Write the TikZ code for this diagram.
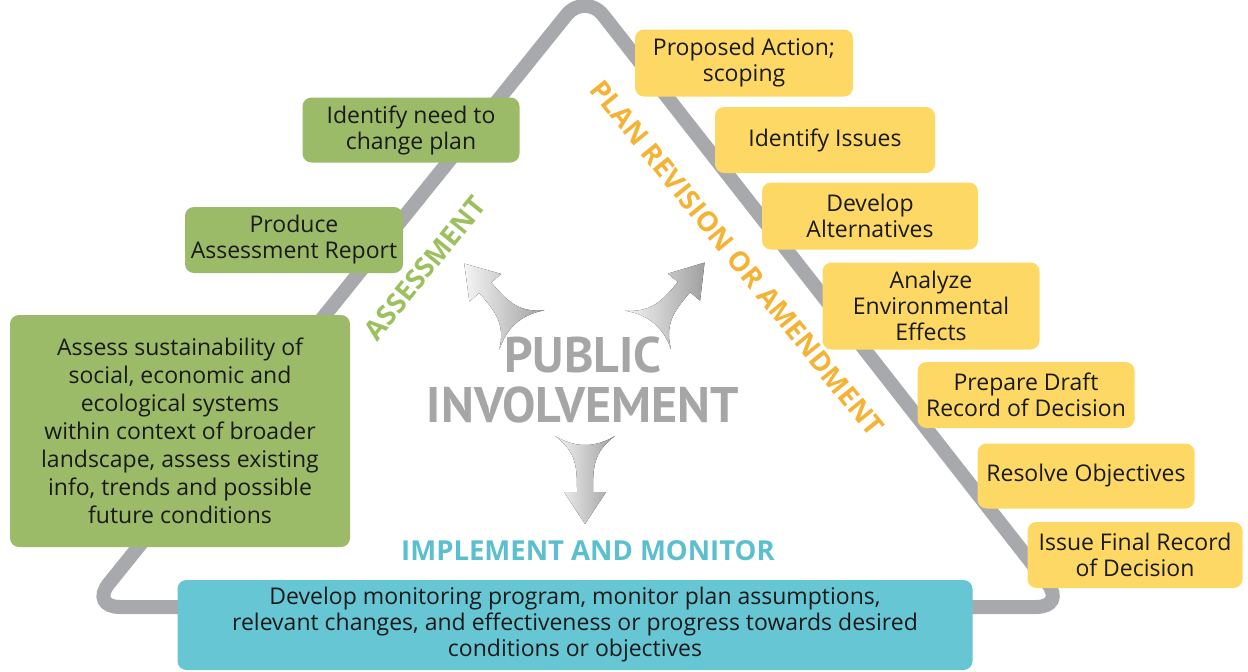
\documentclass[tikz,border=0pt]{standalone}
\usepackage{fontspec}
\setmainfont{Open Sans}
\newfontfamily\centrefont{PT Sans}
\definecolor{assessgreen}{HTML}{9CBB68}
\definecolor{revisionyellow}{HTML}{FDD865}
\definecolor{monitorteal}{HTML}{66C6D3}
\definecolor{trackgray}{HTML}{A8A9AD}
\definecolor{greentitle}{HTML}{9DC05F}
\definecolor{orangetitle}{HTML}{F5B335}
\definecolor{tealtitle}{HTML}{5CBFCD}
\definecolor{inkblack}{HTML}{1A1A1A}
\tikzstyle{stepbox}=[rectangle,rounded corners=9pt,align=center,inner sep=0pt,text=inkblack,font=\fontsize{23}{26}\selectfont]
\tikzstyle{greenbox}=[stepbox,fill=assessgreen]
\tikzstyle{yellowbox}=[stepbox,fill=revisionyellow]
\tikzstyle{tealbox}=[stepbox,fill=monitorteal]
\tikzstyle{phase}=[font=\fontsize{27.5}{27.5}\selectfont\bfseries]
\tikzstyle{track}=[draw=trackgray,line width=14pt,rounded corners=30pt]
\tikzstyle{swoosh}=[left color=gray!8,right color=gray!75]
\newcommand{\swooshto}[2]{%
  \fill[swoosh,shift={#1},rotate=#2] (0,30) .. controls (16,8) and (32,8) .. (56,8)
    -- (56,21) -- (88,0) -- (56,-21) -- (56,-8) .. controls (32,-8) and (16,-8) .. (0,-30)
    .. controls (12,-10) and (12,10) .. (0,30) -- cycle;}

\begin{document}
\begin{tikzpicture}[x=1pt,y=-1pt]
\useasboundingbox (0,0) rectangle (1248,672);
% the cycle
\draw[track] (585,-8) -- (1066,607) -- (90,607) -- cycle;

% assessment
\node[greenbox,minimum width=217pt,minimum height=65pt] at (411,130) (need) {Identify need to\\change plan};
\node[greenbox,minimum width=218pt,minimum height=66pt] at (294,240) (report) {Produce\\Assessment Report};
\node[greenbox,minimum width=340pt,minimum height=232pt,font=\fontsize{23}{28}\selectfont] at (180,431) (sustain) {Assess sustainability of\\social, economic and\\ecological systems\\within context of broader\\landscape, assess existing\\info, trends and possible\\future conditions};

% plan revision
\node[yellowbox,minimum width=218pt,minimum height=67pt] at (744,63) (scoping) {Proposed Action;\\scoping};
\node[yellowbox,minimum width=220pt,minimum height=66pt] at (825,140) (issues) {Identify Issues};
\node[yellowbox,minimum width=216pt,minimum height=67pt] at (870,216) (alternatives) {Develop\\Alternatives};
\node[yellowbox,minimum width=217pt,minimum height=87pt] at (931,306) (effects) {Analyze\\Environmental\\Effects};
\node[yellowbox,minimum width=217pt,minimum height=66pt] at (1026,395) (draft) {Prepare Draft\\Record of Decision};
\node[yellowbox,minimum width=217pt,minimum height=65pt] at (1086,476) (objectives) {Resolve Objectives};
\node[yellowbox,minimum width=215pt,minimum height=66pt] at (1135,555) (final) {Issue Final Record\\of Decision};

% implement and monitor
\node[tealbox,minimum width=795pt,minimum height=90pt] at (575,625) (monitoring) {Develop monitoring program, monitor plan assumptions,\\relevant changes, and effectiveness or progress towards desired\\conditions or objectives};

% phase titles
\node[phase,text=greentitle,rotate=51] at (425,268) (assessment) {ASSESSMENT};
\node[phase,text=orangetitle,rotate=-51] at (737,258) (revision) {PLAN REVISION OR AMENDMENT};
\node[phase,text=tealtitle] at (588,551) (implement) {IMPLEMENT AND MONITOR};

% centre
\node[font=\fontsize{50}{50}\selectfont\centrefont\bfseries,text=gray!70,align=center] at (583,380) (public) {PUBLIC\\INVOLVEMENT};
\swooshto{(522,330)}{131}
\swooshto{(648,330)}{50}
\swooshto{(585,436)}{-90}
\end{tikzpicture}
\end{document}
